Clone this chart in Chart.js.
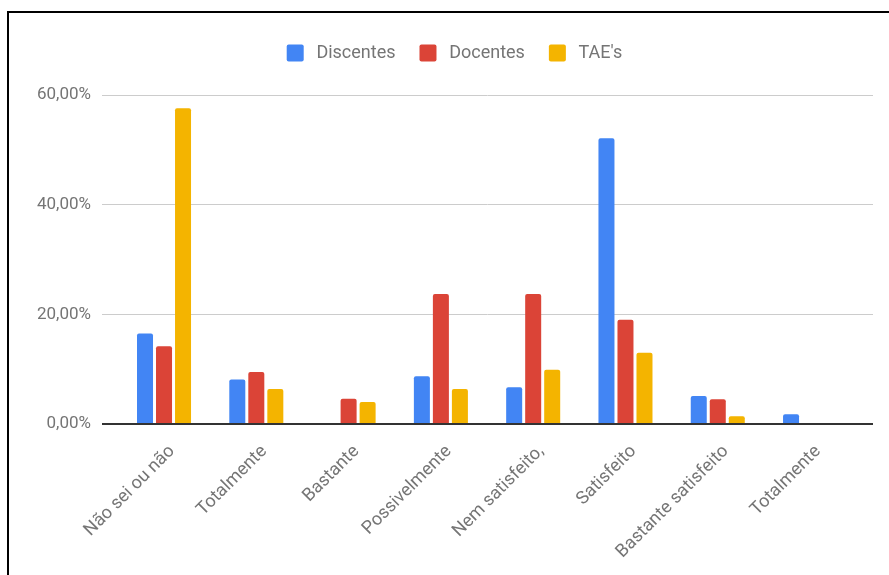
<!DOCTYPE html>
<html>
<head>
<meta charset="utf-8">
<script src="https://cdn.jsdelivr.net/npm/chart.js@4.4.1/dist/chart.umd.min.js"></script>
<style>
  html, body { margin: 0; padding: 0; background: #fff; }
  .frame {
    position: absolute; left: 7px; top: 11px; right: 0; bottom: 0;
    border-top: 2px solid #000; border-left: 2px solid #000;
  }
  .wrap { position: relative; width: 880px; height: 562px; }
</style>
</head>
<body>
<div class="frame"><div class="wrap"><canvas id="chart"></canvas></div></div>
<script>
const categories = [
  'Não sei ou não', 'Totalmente', 'Bastante', 'Possivelmente',
  'Nem satisfeito,', 'Satisfeito', 'Bastante satisfeito', 'Totalmente'
]
const discentes = [16.5, 8.1, 0, 8.7, 6.7, 52.1, 5.1, 1.8]
const docentes  = [14.2, 9.5, 4.6, 23.7, 23.7, 19.0, 4.5, 0]
const taes      = [57.6, 6.4, 4.0, 6.4, 9.9, 13.0, 1.4, 0]
const yTicks    = [0, 20, 40, 60]

const grey = '#757575'
const font = 'Roboto, "Noto Sans", sans-serif'
const toPoints = arr => arr.map((v, i) => ({ x: i, y: v }))

const bar = (label, values, color) => ({
  label,
  data: toPoints(values),
  backgroundColor: color,
  borderRadius: 2,
  borderSkipped: 'start',
  categoryPercentage: 0.618,
  barPercentage: 0.842,
})

// extra room between the legend and the plot
const legendGap = {
  id: 'legendGap',
  beforeInit(chart) {
    const fit = chart.legend.fit
    chart.legend.fit = function () {
      fit.bind(chart.legend)()
      this.height += 23
    }
  },
}

new Chart(document.getElementById('chart'), {
  type: 'bar',
  data: {
    datasets: [
      bar('Discentes', discentes, '#4285F4'),
      bar('Docentes', docentes, '#DB4437'),
      bar("TAE's", taes, '#F4B400'),
    ],
  },
  plugins: [legendGap],
  options: {
    responsive: true,
    maintainAspectRatio: false,
    animation: false,
    layout: { padding: { top: 7, right: 16, left: 27 } },
    scales: {
      x: {
        type: 'linear',
        offset: false,
        min: -0.672,
        max: 7.682,
        grid: { display: false },
        border: { display: false },
        ticks: {
          stepSize: 1,
          includeBounds: false,
          autoSkip: false,
          minRotation: 45,
          maxRotation: 45,
          padding: 9,
          labelOffset: 8,
          color: grey,
          font: { family: font, size: 18 },
          callback: v => Number.isInteger(v) ? categories[v] : '',
        },
        afterFit: s => { s.height = 151 },
      },
      y: {
        min: 0,
        max: 60,
        afterBuildTicks: s => { s.ticks = yTicks.map(v => ({ value: v })) },
        grid: {
          drawTicks: false,
          color: c => c.tick.value === 0 ? '#333' : '#cccccc',
          lineWidth: c => c.tick.value === 0 ? 2 : 1,
        },
        border: { display: false },
        ticks: {
          padding: 11,
          color: grey,
          font: { family: font, size: 17 },
          callback: v => v.toFixed(2).replace('.', ',') + '%',
        },
        afterFit: s => { s.width = 66 },
      },
    },
    plugins: {
      legend: {
        position: 'top',
        labels: {
          color: grey,
          font: { family: font, size: 18 },
          boxWidth: 17,
          boxHeight: 17,
          useBorderRadius: true,
          borderRadius: 2,
          padding: 24,
          generateLabels: chart => Chart.defaults.plugins.legend.labels.generateLabels(chart)
            .map(item => ({ ...item, text: '\u2009' + item.text })),
        },
      },
      tooltip: { enabled: false },
    },
  },
})
</script>
</body>
</html>
